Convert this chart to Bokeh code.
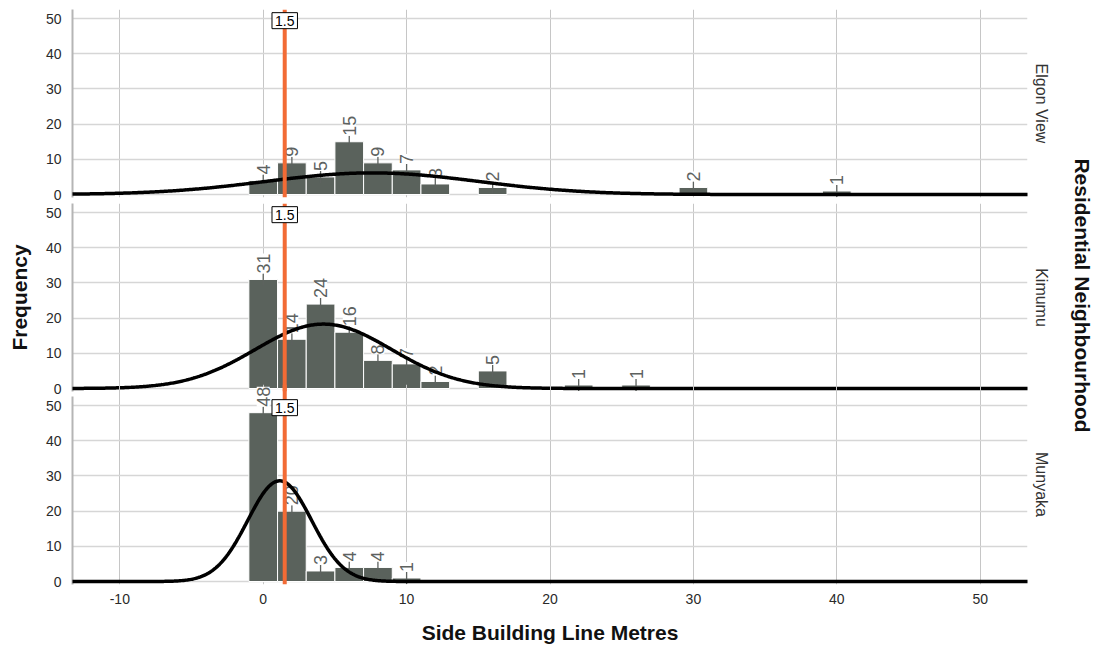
import numpy as np
from bokeh.plotting import figure
from bokeh.layouts import column, row
from bokeh.models import (Range1d, Span, Label, LabelSet, Title, FixedTicker, Grid,
                          ColumnDataSource)
from bokeh.core.properties import value
from bokeh.embed import file_html
from bokeh.resources import INLINE

# ---------------- data ----------------
panel_names = ["Elgon View", "Kimumu", "Munyaka"]

elgon_bins = [0, 2, 4, 6, 8, 10, 12, 16, 30, 40]
elgon_counts = [4, 9, 5, 15, 9, 7, 3, 2, 2, 1]

kimumu_bins = [0, 2, 4, 6, 8, 10, 12, 16, 22, 26]
kimumu_counts = [31, 14, 24, 16, 8, 7, 2, 5, 1, 1]

munyaka_bins = [0, 2, 4, 6, 8, 10]
munyaka_counts = [48, 20, 3, 4, 4, 1]

# fitted normal curve parameters (n, mean, sd)
fit_n = [57, 109, 80]
fit_mean = [7.6, 4.2, 1.15]
fit_sd = [7.4, 4.75, 2.23]
bin_width = 2

reference_value = 1.5
reference_label = "1.5"

x_ticks = [-10, 0, 10, 20, 30, 40, 50]
x_tick_labels = ["-10", "0", "10", "20", "30", "40", "50"]
y_ticks = [0, 10, 20, 30, 40, 50]

x_title = "Side Building Line Metres"
y_title = "Frequency"
facet_title = "Residential Neighbourhood"

# ---------------- style ----------------
FONT = "Liberation Sans"
BAR = "#5a625c"
LABEL_C = "#5d625f"
ORANGE = "#f26b35"
XR = (-13.3, 53.3)
YR = (-0.85, 52.6)
FRAME_H = 188
OVERLAP = 12  # bottom panel reaches up so tall labels can spill over

bins_all = [elgon_bins, kimumu_bins, munyaka_bins]
counts_all = [elgon_counts, kimumu_counts, munyaka_counts]

MAIN_W = 1062
TOTAL_H = 646
heights = [202, 194, 262]
tops = [9, 1, 0]
bottoms = [5, 5, 62]

figs = []
for i, name in enumerate(panel_names):
    last = i == 2
    kw = {}
    ytop = YR[1]
    if last:
        kw["margin"] = (-OVERLAP, 0, 0, 0)
        ytop = YR[1] + OVERLAP * (YR[1] - YR[0]) / FRAME_H
    p = figure(width=MAIN_W, height=heights[i],
               x_range=Range1d(*XR), y_range=Range1d(YR[0], ytop),
               output_backend="svg", toolbar_location=None,
               x_axis_location="below" if last else None,
               min_border_left=72, min_border_right=35,
               min_border_top=tops[i], min_border_bottom=bottoms[i], **kw)
    p.outline_line_color = None
    p.background_fill_color = "white"
    p.border_fill_color = "white"
    if last:
        p.border_fill_alpha = 0
        p.background_fill_alpha = 0

    # y axis
    yax = p.yaxis[0]
    yax.ticker = FixedTicker(ticks=y_ticks)
    yax.bounds = YR
    yax.axis_line_color = "#b5b5b5"
    yax.axis_line_width = 2
    yax.major_tick_line_color = None
    yax.minor_tick_line_color = None
    yax.major_label_text_font = FONT
    yax.major_label_text_font_size = "14px"
    yax.major_label_text_color = "#2a2a2a"
    yax.major_label_standoff = 5
    yax.axis_label = y_title
    yax.axis_label_text_font = FONT
    yax.axis_label_text_font_size = "21px"
    yax.axis_label_text_font_style = "bold"
    yax.axis_label_text_color = "#111111"
    yax.axis_label_standoff = 12
    if i != 1:
        yax.axis_label_text_alpha = 0

    # grids
    for g in p.xgrid:
        g.grid_line_color = None
    for g in p.ygrid:
        g.grid_line_color = None
    p.add_layout(Grid(dimension=0, ticker=FixedTicker(ticks=x_ticks),
                      grid_line_color="#c6c6c6", grid_line_width=1))
    p.add_layout(Grid(dimension=1, ticker=FixedTicker(ticks=y_ticks),
                      grid_line_color="#d6d6d6", grid_line_width=1.6))

    if last:
        xax = p.xaxis[0]
        xax.ticker = FixedTicker(ticks=x_ticks)
        xax.major_label_overrides = {t: s for t, s in zip(x_ticks, x_tick_labels)}
        xax.axis_line_color = None
        xax.major_tick_line_color = None
        xax.minor_tick_line_color = None
        xax.major_label_text_font = FONT
        xax.major_label_text_font_size = "14px"
        xax.major_label_text_color = "#2a2a2a"
        xax.major_label_standoff = 3
        xax.axis_label = x_title
        xax.axis_label_text_font = FONT
        xax.axis_label_text_font_size = "21px"
        xax.axis_label_text_font_style = "bold"
        xax.axis_label_text_color = "#111111"
        xax.axis_label_standoff = 14

    b = np.array(bins_all[i], dtype=float)
    c = np.array(counts_all[i], dtype=float)
    src = ColumnDataSource(dict(left=b - bin_width / 2, right=b + bin_width / 2,
                                x=b, top=c, lab=[str(int(v)) for v in c]))
    p.quad(left="left", right="right", top="top", bottom=0, source=src,
           fill_color=BAR, line_color="white", line_width=1)
    p.scatter(x="x", y="top", source=src, marker="dash", size=12, angle=np.pi / 2,
              line_color=LABEL_C, line_width=1.3)
    labels = LabelSet(x="x", y="top", text="lab", source=src, angle=np.pi / 2,
                      text_align="left", text_baseline="middle", y_offset=6,
                      text_font=value(FONT), text_font_size="18px",
                      text_color=LABEL_C, background_fill_color="white")
    p.add_layout(labels)

    xs = np.linspace(XR[0], XR[1], 800)
    ys = fit_n[i] * bin_width / (fit_sd[i] * np.sqrt(2 * np.pi)) * \
        np.exp(-0.5 * ((xs - fit_mean[i]) / fit_sd[i]) ** 2)
    curve = p.line(xs, ys, line_color="black", line_width=3.5)
    p.renderers.remove(curve)
    curve.level = "annotation"
    p.add_layout(curve)

    p.add_layout(Span(location=reference_value, dimension="height",
                      line_color=ORANGE, line_width=4))
    p.add_layout(Label(x=reference_value, y=YR[1] - 0.9, text=reference_label,
                       text_align="center", text_baseline="top",
                       text_font=FONT, text_font_size="14px", text_color="black",
                       background_fill_color="white", border_line_color="black",
                       border_line_width=1, padding=3))

    p.add_layout(Title(text=name, align="center", text_font=FONT,
                       text_font_size="16px", text_font_style="normal",
                       text_color="#333333", standoff=10,
                       offset=OVERLAP // 2 if last else 0), "right")
    figs.append(p)

# outer facet title
pt = figure(width=36, height=TOTAL_H, x_range=Range1d(0, 36), y_range=Range1d(0, TOTAL_H),
            output_backend="svg", toolbar_location=None,
            x_axis_location=None, y_axis_location=None,
            min_border=0, min_border_left=0, min_border_right=0,
            min_border_top=0, min_border_bottom=0)
pt.outline_line_color = None
pt.xgrid.visible = False
pt.ygrid.visible = False
pt.text(x=[20], y=[TOTAL_H - 295], text=[facet_title], angle=-np.pi / 2,
        text_align="center", text_baseline="middle",
        text_font=value(FONT), text_font_size="21px", text_font_style="bold",
        text_color="#111111")

layout = row(column(*figs, spacing=0), pt, spacing=0)
open("out.html", "w").write(file_html(layout, INLINE))
